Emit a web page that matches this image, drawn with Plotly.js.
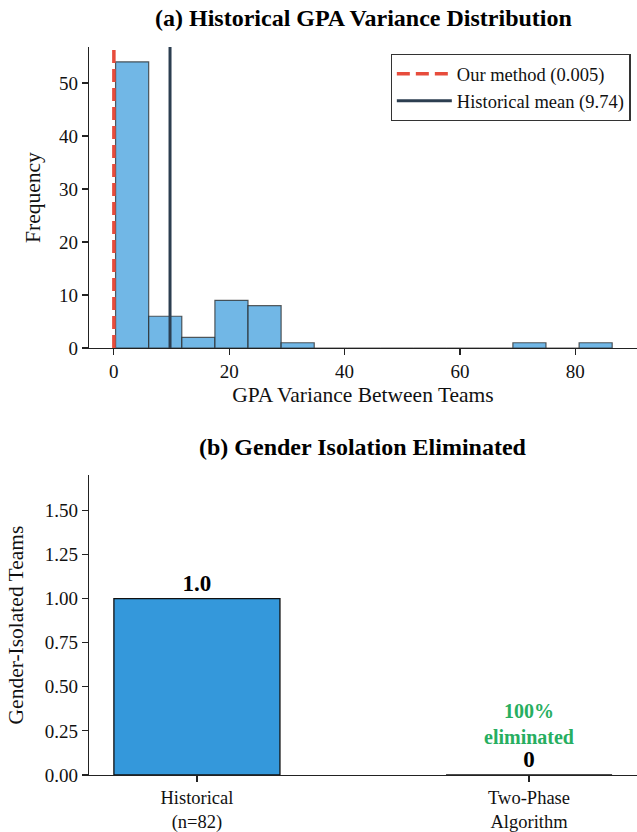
<!DOCTYPE html>
<html><head><meta charset="utf-8">
<script src="https://cdn.plot.ly/plotly-3.0.1.min.js"></script>
<style>body{margin:0;padding:0;background:#fff}#chart{width:637px;height:832px}</style>
</head><body><div id="chart"></div>
<script>
// Histogram (a)
const binEdges = [0.3, 6.04, 11.78, 17.52, 23.26, 29.0, 34.74, 40.48, 46.22, 51.96, 57.7, 63.44, 69.18, 74.92, 80.66, 86.4];
const binCounts = [54, 6, 2, 9, 8, 1, 0, 0, 0, 0, 0, 0, 1, 0, 1];
const ourMethod = 0.005;
const historicalMean = 9.74;
// Bars (b)
const categories = ['Historical<br>(n=82)', 'Two-Phase<br>Algorithm'];
const isolatedTeams = [1.0, 0];
const barLabels = ['1.0', '0'];

const serif = 'Liberation Serif, Times New Roman, serif';
const centers = binCounts.map((c, i) => (binEdges[i] + binEdges[i+1]) / 2);
const widths = binCounts.map((c, i) => binEdges[i+1] - binEdges[i]);
const yTopA = 56.8;

const traces = [
  {type:'bar', x: centers, y: binCounts, width: widths, xaxis:'x', yaxis:'y',
   marker:{color:'rgba(93,173,226,0.88)', line:{color:'rgba(40,40,40,0.75)', width:1.2}},
   showlegend:false, hoverinfo:'skip'},
  {type:'scatter', mode:'lines', x:[ourMethod, ourMethod], y:[0, 100], xaxis:'x', yaxis:'y',
   line:{color:'#E74C3C', width:3.5, dash:'13px,6px'}, name:'Our method (0.005)'},
  {type:'scatter', mode:'lines', x:[historicalMean, historicalMean], y:[0, 100], xaxis:'x', yaxis:'y',
   line:{color:'#2C3E50', width:3}, name:'Historical mean (9.74)'},
  {type:'bar', x:[0,1], y: isolatedTeams, width:0.5, xaxis:'x2', yaxis:'y2',
   marker:{color:'#3498DB', line:{color:'#111', width:1.3}},
   text: barLabels.map(t => '<b>'+t+'</b>'), textposition:'outside', cliponaxis:false,
   textfont:{family:serif, size:23, color:'#000'}, showlegend:false, hoverinfo:'skip'}
];

const axisCommon = {showline:true, linecolor:'#222', linewidth:1.2, ticks:'outside', ticklen:6, tickwidth:1.2,
  tickcolor:'#222', showgrid:false, zeroline:false, tickfont:{family:serif, size:19, color:'#111'}};

const layout = {
  width:637, height:832, margin:{l:0, r:0, t:0, b:0}, paper_bgcolor:'#fff', plot_bgcolor:'#fff',
  font:{family:serif, color:'#111'}, bargap:0,
  xaxis: Object.assign({}, axisCommon, {domain:[0.1397, 1], range:[-4.31, 90.7], tickvals:[0,20,40,60,80],
    anchor:'y', title:{text:'GPA Variance Between Teams', font:{family:serif, size:21.5}, standoff:6}}),
  yaxis: Object.assign({}, axisCommon, {domain:[0.5817, 0.9435], range:[0, yTopA], tickvals:[0,10,20,30,40,50],
    anchor:'x', title:{text:'Frequency', font:{family:serif, size:21.5}, standoff:12}}),
  xaxis2: Object.assign({}, axisCommon, {domain:[0.1397, 1], range:[-0.325, 1.325], tickvals:[0,1],
    ticktext: categories, anchor:'y2', tickfont:{family:serif, size:18.5, color:'#111'}}),
  yaxis2: Object.assign({}, axisCommon, {domain:[0.0685, 0.4291], range:[0, 1.7],
    tickvals:[0,0.25,0.5,0.75,1.0,1.25,1.5], tickformat:'.2f', anchor:'x2',
    title:{text:'Gender-Isolated Teams', font:{family:serif, size:21.5}, standoff:15}}),
  legend:{x:0.99, y:0.935, xref:'paper', yref:'paper', xanchor:'right', yanchor:'top',
    bgcolor:'#fff', bordercolor:'#333', borderwidth:1.2, font:{family:serif, size:18.5, color:'#111'},
    tracegroupgap:0, itemwidth:55},
  annotations:[
    {text:'<b>(a) Historical GPA Variance Distribution</b>', xref:'paper', yref:'paper', x:0.5699, y:1-18/832,
     showarrow:false, font:{family:serif, size:24, color:'#000'}, xanchor:'center', yanchor:'middle'},
    {text:'<b>(b) Gender Isolation Eliminated</b>', xref:'paper', yref:'paper', x:0.5699, y:1-447/832,
     showarrow:false, font:{family:serif, size:24, color:'#000'}, xanchor:'center', yanchor:'middle'},
    {text:'<b>100%<br>eliminated</b>', xref:'x2', yref:'y2', x:1, y:0.15, showarrow:false, borderpad:0,
     font:{family:serif, size:20, color:'#27AE60'}, xanchor:'center', yanchor:'bottom'}
  ]
};
Plotly.newPlot('chart', traces, layout, {displayModeBar:false, staticPlot:true});
</script></body></html>
